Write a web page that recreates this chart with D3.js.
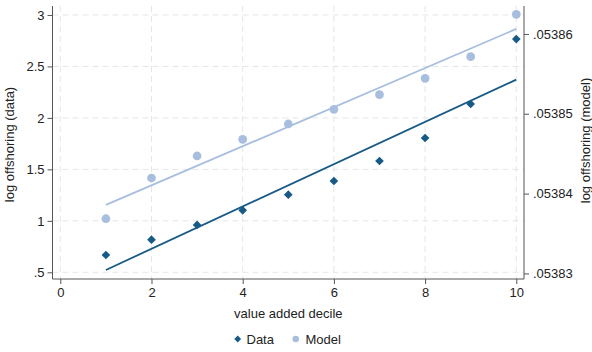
<!DOCTYPE html>
<html>
<head>
<meta charset="utf-8">
<script src="https://cdn.jsdelivr.net/npm/d3@7"></script>
<style>
  html, body { margin: 0; padding: 0; background: #fff; }
  svg { display: block; font-family: "Liberation Sans", Arial, Helvetica, sans-serif; }
</style>
</head>
<body>
<svg id="chart" width="592" height="352"></svg>
<script>
// Deciles of value added
const deciles = [1, 2, 3, 4, 5, 6, 7, 8, 9, 10];
// Log offshoring observed in the data (left axis)
const dataValues = [0.668, 0.817, 0.960, 1.102, 1.254, 1.387, 1.581, 1.805, 2.135, 2.766];
// Log offshoring implied by the model (right axis)
const modelValues = [0.05383685, 0.05384195, 0.05384471, 0.05384680, 0.05384872,
                     0.05385056, 0.05385239, 0.05385444, 0.05385715, 0.05386246];
// Tick values
const xTicks = [0, 2, 4, 6, 8, 10];
const leftTicks = [0.5, 1, 1.5, 2, 2.5, 3];
const rightTicks = [0.05383, 0.05384, 0.05385, 0.05386];
const legendLabels = ["Data", "Model"];

const colData = "#185a86";
const colModel = "#a7bedf";
const axisCol = "#555";
const textCol = "#222";

const plot = { left: 52.5, right: 524, top: 6, bottom: 279 };

const x = d3.scaleLinear().domain([-0.171, 10.169]).range([plot.left, plot.right]);
const yL = d3.scaleLinear().domain([0.435, 3.087]).range([plot.bottom, plot.top]);
const yR = d3.scaleLinear().domain([0.0538293, 0.0538635]).range([plot.bottom, plot.top]);

const svg = d3.select("#chart");

// Dashed grid
const grid = svg.append("g").attr("stroke", "#e6e6e6").attr("stroke-width", 1)
  .attr("stroke-dasharray", "6,4");
grid.selectAll("line.h").data(leftTicks).join("line").attr("class", "h")
  .attr("x1", plot.left).attr("x2", plot.right)
  .attr("y1", d => yL(d)).attr("y2", d => yL(d));
grid.selectAll("line.v").data(xTicks).join("line").attr("class", "v")
  .attr("x1", d => x(d)).attr("x2", d => x(d))
  .attr("y1", plot.top).attr("y2", plot.bottom);

// Least-squares fit line for a series
function fit(xs, ys) {
  const mx = d3.mean(xs), my = d3.mean(ys);
  const sxy = d3.sum(xs, (v, i) => (v - mx) * (ys[i] - my));
  const sxx = d3.sum(xs, v => (v - mx) ** 2);
  const b = sxy / sxx, a = my - b * mx;
  const x0 = d3.min(xs), x1 = d3.max(xs);
  return [[x0, a + b * x0], [x1, a + b * x1]];
}

const fitData = fit(deciles, dataValues);
const fitModel = fit(deciles, modelValues);

svg.append("path").datum(fitModel)
  .attr("d", d3.line().x(d => x(d[0])).y(d => yR(d[1])))
  .attr("fill", "none").attr("stroke", colModel).attr("stroke-width", 1.8);
svg.append("path").datum(fitData)
  .attr("d", d3.line().x(d => x(d[0])).y(d => yL(d[1])))
  .attr("fill", "none").attr("stroke", colData).attr("stroke-width", 1.8);

// Markers
const diamond = d3.symbol().type(d3.symbolDiamond2).size(48);
const circle = d3.symbol().type(d3.symbolCircle).size(60);

svg.append("g").selectAll("path").data(deciles).join("path")
  .attr("d", circle)
  .attr("transform", (d, i) => `translate(${x(d)},${yR(modelValues[i])})`)
  .attr("fill", colModel);
svg.append("g").selectAll("path").data(deciles).join("path")
  .attr("d", diamond)
  .attr("transform", (d, i) => `translate(${x(d)},${yL(dataValues[i])})`)
  .attr("fill", colData);

// Axes
const stripZero = s => s.replace(/^0\./, ".");
function styleAxis(g) {
  g.select(".domain").remove();
  g.selectAll(".tick line").attr("stroke", axisCol);
  g.selectAll(".tick text").attr("fill", textCol).style("font-size", "13px")
    .style("font-family", '"Liberation Sans", Arial, Helvetica, sans-serif');
}

svg.append("g").attr("transform", `translate(${plot.left},0)`)
  .call(d3.axisLeft(yL).tickValues(leftTicks).tickSize(5).tickPadding(3)
    .tickFormat(d => stripZero(d3.format("")(d))))
  .call(styleAxis);

svg.append("g").attr("transform", `translate(${plot.right},0)`)
  .call(d3.axisRight(yR).tickValues(rightTicks).tickSize(5).tickPadding(4)
    .tickFormat(d => stripZero(d3.format(".5f")(d))))
  .call(styleAxis);

svg.append("g").attr("transform", `translate(0,${plot.bottom})`)
  .call(d3.axisBottom(x).tickValues(xTicks).tickSize(5).tickPadding(4)
    .tickFormat(d3.format("d")))
  .call(styleAxis);

// Axis lines (left, bottom, right)
svg.append("path")
  .attr("d", `M${plot.left},${plot.top}V${plot.bottom}H${plot.right}V${plot.top}`)
  .attr("fill", "none").attr("stroke", axisCol).attr("stroke-width", 1);

// Axis titles
svg.append("text").attr("x", (x(0) + x(10)) / 2).attr("y", 317.5)
  .attr("text-anchor", "middle").attr("fill", textCol).style("font-size", "13px")
  .text("value added decile");
svg.append("text").attr("transform", "translate(13.5,144.5) rotate(-90)")
  .attr("text-anchor", "middle").attr("fill", textCol).style("font-size", "13px")
  .text("log offshoring (data)");
svg.append("text").attr("transform", "translate(589.5,140.5) rotate(-90)")
  .attr("text-anchor", "middle").attr("fill", textCol).style("font-size", "13px")
  .text("log offshoring (model)");

// Legend
const legend = svg.append("g");
legend.append("path").attr("d", d3.symbol().type(d3.symbolDiamond2).size(30))
  .attr("transform", "translate(237.7,339)").attr("fill", colData);
legend.append("text").attr("x", 246.5).attr("y", 343.5).attr("fill", textCol)
  .style("font-size", "13px").text(legendLabels[0]);
legend.append("path").attr("d", d3.symbol().type(d3.symbolCircle).size(34))
  .attr("transform", "translate(295.7,339)").attr("fill", colModel);
legend.append("text").attr("x", 305.5).attr("y", 343.5).attr("fill", textCol)
  .style("font-size", "13px").text(legendLabels[1]);
</script>
</body>
</html>
